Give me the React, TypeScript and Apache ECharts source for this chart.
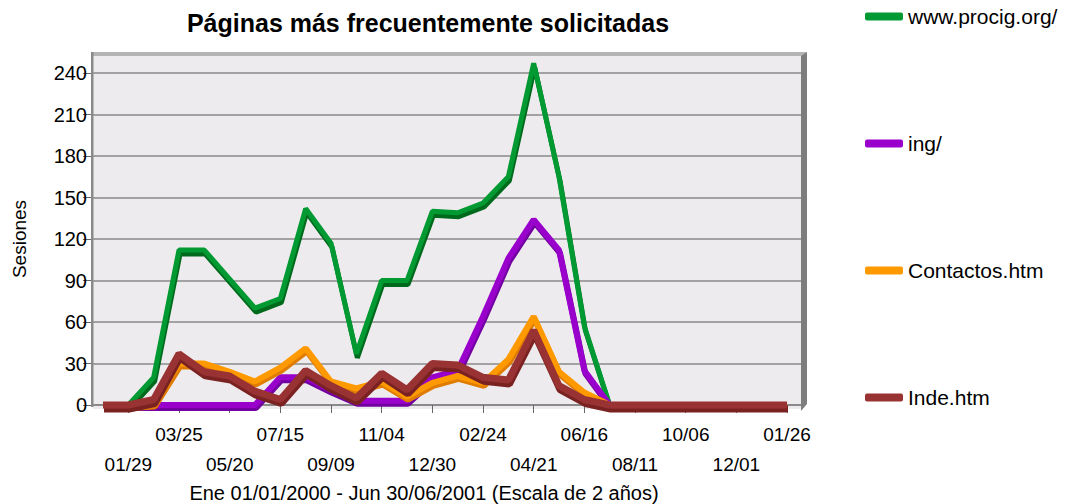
import React, { useEffect, useRef } from "react";
import * as echarts from "echarts";

const categories = [
  "01/01", "01/29", "02/26", "03/25", "04/22", "05/20", "06/17", "07/15", "08/12", "09/09",
  "10/07", "11/04", "12/02", "12/30", "01/27", "02/24", "03/24", "04/21", "05/19", "06/16",
  "07/14", "08/11", "09/08", "10/06", "11/03", "12/01", "12/29", "01/26",
];

const seriesNames = ["www.procig.org/", "ing/", "Contactos.htm", "Inde.htm"];

const procigValues = [0, 0, 20, 112, 112, 91, 70, 77, 142, 117, 37, 90, 90, 140, 139, 146, 165, 247, 165, 57, 0, 0, 0, 0, 0, 0, 0, 0];
const ingValues = [0, 0, 0, 0, 0, 0, 0, 20, 20, 11, 3, 3, 3, 20, 25, 64, 106, 134, 112, 25, 0, 0, 0, 0, 0, 0, 0, 0];
const contactosValues = [0, 0, 1, 30, 30, 24, 17, 27, 41, 17, 12, 17, 6, 16, 21, 16, 33, 64, 24, 9, 0, 0, 0, 0, 0, 0, 0, 0];
const indeValues = [0, 0, 4, 37, 24, 21, 10, 4, 25, 14, 5, 23, 11, 30, 29, 20, 18, 54, 14, 4, 0, 0, 0, 0, 0, 0, 0, 0];

const yTicks = [0, 30, 60, 90, 120, 150, 180, 210, 240];

const titleText = "Páginas más frecuentemente solicitadas";
const xAxisTitle = "Ene 01/01/2000 - Jun 30/06/2001 (Escala de 2 años)";
const yAxisTitle = "Sesiones";

const FONT = '"Liberation Sans", Arial, sans-serif';

export default function App() {
  const ref = useRef<HTMLDivElement>(null);

  useEffect(() => {
    if (!ref.current) return;
    const chart = echarts.init(ref.current, null, { renderer: "svg" });

    const palette = [
      { top: "#009933", side: "#006b1f", width: 5, off: 4 },
      { top: "#9900cc", side: "#7200a0", width: 6, off: 3 },
      { top: "#ff9900", side: "#e07d00", width: 6, off: 3 },
      { top: "#993333", side: "#7a2020", width: 7, off: 4 },
    ];
    const values = [procigValues, ingValues, contactosValues, indeValues];

    const showOdd = (index: number) => index % 2 === 1;

    const option: any = {
      animation: false,
      backgroundColor: "#ffffff",
      textStyle: { fontFamily: FONT },
      grid: [
        { left: 93, right: 266, top: 73, bottom: 99 },
        { left: 103, right: 281, top: 73, bottom: 99 },
      ],
      xAxis: [
        {
          gridIndex: 0,
          type: "value",
          min: 0,
          max: 1,
          axisLine: { show: true, onZero: false, lineStyle: { color: "#8a8a8a", width: 2 } },
          axisTick: { show: false },
          axisLabel: { show: false },
          splitLine: { show: false },
        },
        {
          gridIndex: 1,
          type: "category",
          data: categories,
          boundaryGap: false,
          axisLine: { show: false },
          axisTick: {
            show: true,
            interval: (index: number) => showOdd(index),
            length: 8,
            lineStyle: { color: "#666666", width: 1 },
          },
          axisLabel: {
            interval: (index: number) => showOdd(index),
            formatter: (value: string, index: number) => (index % 4 === 1 ? "\n" + value : value),
            fontSize: 19,
            lineHeight: 30,
            margin: 14,
            color: "#000000",
            fontFamily: FONT,
          },
          splitLine: { show: false },
        },
      ],
      yAxis: [
        {
          gridIndex: 0,
          type: "value",
          min: yTicks[0],
          max: yTicks[yTicks.length - 1],
          interval: yTicks[1] - yTicks[0],
          name: yAxisTitle,
          nameLocation: "middle",
          nameGap: 64,
          nameTextStyle: { fontSize: 19, color: "#000000", fontFamily: FONT },
          axisLine: { show: false },
          axisTick: { show: true, length: 10, lineStyle: { color: "#666666", width: 1 } },
          axisLabel: { fontSize: 20, color: "#000000", margin: 6, fontFamily: FONT },
          splitLine: { show: true, lineStyle: { color: "#8a8a8a", width: 1.5 } },
        },
        {
          gridIndex: 1,
          type: "value",
          min: yTicks[0],
          max: yTicks[yTicks.length - 1],
          interval: yTicks[1] - yTicks[0],
          show: false,
          splitLine: { show: false },
        },
      ],
      legend: {
        orient: "vertical",
        left: 860,
        top: 1,
        itemWidth: 38,
        itemHeight: 8,
        itemGap: 106,
        textStyle: { fontSize: 21, lineHeight: 20, color: "#000000", fontFamily: FONT },
        data: seriesNames.map((name, i) => ({
          name,
          icon: "roundRect",
          itemStyle: { color: palette[i].top, shadowBlur: 0, shadowColor: "transparent", shadowOffsetX: 0, shadowOffsetY: 0 },
        })),
      },
      graphic: [
        { type: "rect", z: -10, shape: { x: 93, y: 55, width: 709, height: 354 }, style: { fill: "#eeebee" } },
        { type: "rect", z: -9, shape: { x: 92, y: 52, width: 714, height: 4 }, style: { fill: "#b4b4b4" } },
        { type: "rect", z: 1, shape: { x: 91, y: 52, width: 2.5, height: 355 }, style: { fill: "#8a8a8a" } },
        {
          type: "polygon",
          z: 1,
          shape: { points: [[801, 56], [807, 52], [807, 404], [801, 411]] },
          style: { fill: "#7d7d7d" },
        },
        {
          type: "text",
          x: 428,
          y: 23,
          style: {
            text: titleText,
            font: `bold 25px ${FONT}`,
            fill: "#000000",
            textAlign: "center",
            textVerticalAlign: "middle",
          },
        },
        {
          type: "text",
          x: 424,
          y: 493,
          style: {
            text: xAxisTitle,
            font: `20px ${FONT}`,
            fill: "#000000",
            textAlign: "center",
            textVerticalAlign: "middle",
          },
        },
      ],
      series: seriesNames.map((name, i) => ({
        name,
        type: "line",
        xAxisIndex: 1,
        yAxisIndex: 1,
        data: values[i],
        showSymbol: false,
        symbol: "none",
        clip: false,
        lineStyle: {
          color: palette[i].top,
          width: palette[i].width,
          shadowColor: palette[i].side,
          shadowBlur: 0,
          shadowOffsetX: 1,
          shadowOffsetY: palette[i].off,
        },
        itemStyle: { color: palette[i].top },
        z: 2 + i,
      })),
    };

    chart.setOption(option);
    return () => chart.dispose();
  }, []);

  return <div ref={ref} style={{ width: 1068, height: 504, position: "absolute", left: 0, top: 0 }} />;
}
